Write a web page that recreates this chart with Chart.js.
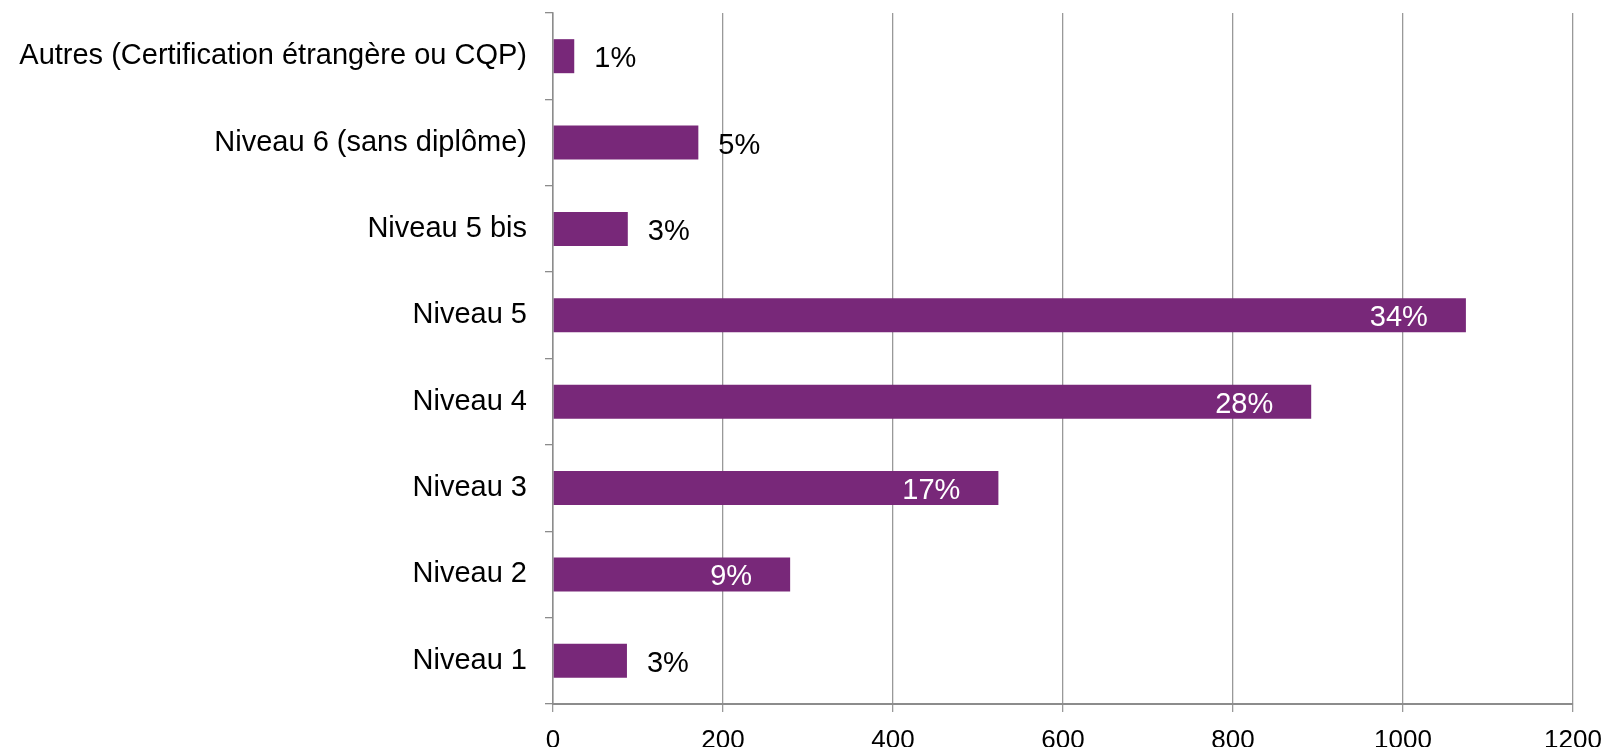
<!DOCTYPE html>
<html>
<head>
<meta charset="utf-8">
<script src="https://cdn.jsdelivr.net/npm/chart.js@4/dist/chart.umd.min.js"></script>
<style>
  html, body { margin: 0; padding: 0; background: #fff; }
  #wrap { width: 1603px; height: 747px; }
</style>
</head>
<body>
<div id="wrap"><canvas id="chart" width="1603" height="747"></canvas></div>
<script>
// chart data
const categories = [
  'Autres (Certification étrangère ou CQP)',
  'Niveau 6 (sans diplôme)',
  'Niveau 5 bis',
  'Niveau 5',
  'Niveau 4',
  'Niveau 3',
  'Niveau 2',
  'Niveau 1'
];
const values = [25, 171, 88, 1074, 892, 524, 279, 87];
const shareLabels = ['1%', '5%', '3%', '34%', '28%', '17%', '9%', '3%'];
const xTicks = [0, 200, 400, 600, 800, 1000, 1200];

const LABEL_FONT = '29px "Liberation Sans", Arial, sans-serif';

// draws the percentage next to / inside each bar
const shareLabelPlugin = {
  id: 'shareLabels',
  afterDatasetsDraw(chart) {
    const ctx = chart.ctx;
    const meta = chart.getDatasetMeta(0);
    ctx.save();
    ctx.font = LABEL_FONT;
    ctx.textBaseline = 'middle';
    meta.data.forEach((bar, i) => {
      const len = bar.x - bar.base;
      if (len > 150) {
        ctx.fillStyle = '#ffffff';
        ctx.textAlign = 'right';
        ctx.fillText(shareLabels[i], bar.x - 38, bar.y + 3);
      } else {
        ctx.fillStyle = '#000000';
        ctx.textAlign = 'left';
        ctx.fillText(shareLabels[i], bar.x + 20, bar.y + 3);
      }
    });
    ctx.restore();
  }
};

new Chart(document.getElementById('chart'), {
  type: 'bar',
  data: {
    labels: categories,
    datasets: [{
      data: values,
      backgroundColor: '#782879',
      borderWidth: 0,
      barPercentage: 0.394,
      categoryPercentage: 1
    }]
  },
  options: {
    indexAxis: 'y',
    responsive: false,
    animation: false,
    layout: { padding: { left: 14, top: 13, right: 30, bottom: 0 } },
    plugins: {
      legend: { display: false },
      tooltip: { enabled: false }
    },
    scales: {
      x: {
        min: 0,
        max: 1200,
        afterBuildTicks(scale) {
          scale.ticks = xTicks.map(v => ({ value: v }));
        },
        afterFit(scale) {
          scale.height = 43;
          scale.paddingLeft = 0;
          scale.paddingRight = 0;
        },
        grid: {
          color: '#999999',
          lineWidth: 1.3,
          tickLength: 8,
          tickColor: '#999999'
        },
        border: { color: '#8c8c8c', width: 2 },
        ticks: {
          padding: 13,
          color: '#000',
          callback: v => String(v),
          font: { family: '"Liberation Sans Narrow", "Arial Narrow", "Liberation Sans", sans-serif', size: 26, lineHeight: 1.2 }
        }
      },
      y: {
        afterFit(scale) {
          scale.width = 539;
          scale.paddingTop = 0;
          scale.paddingBottom = 0;
        },
        grid: {
          offset: true,
          drawOnChartArea: false,
          tickLength: 8,
          tickColor: '#8c8c8c',
          lineWidth: 1.3
        },
        border: { color: '#8c8c8c', width: 1.5 },
        ticks: {
          padding: 18,
          color: '#000',
          font: { family: '"Liberation Sans", Arial, sans-serif', size: 29 }
        }
      }
    }
  },
  plugins: [shareLabelPlugin]
});
</script>
</body>
</html>
